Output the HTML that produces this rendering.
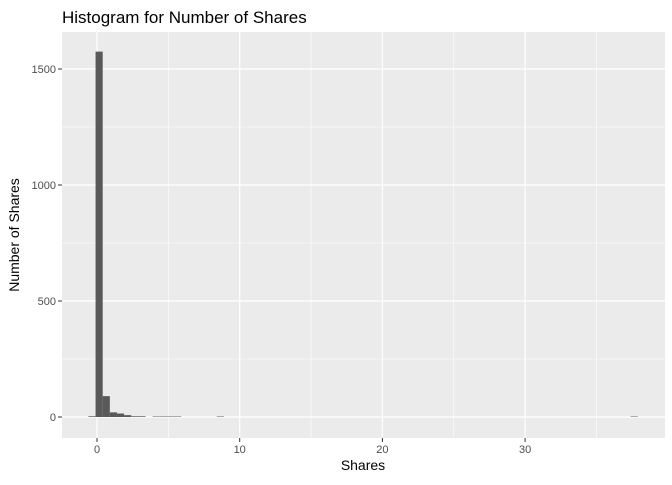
<!DOCTYPE html>
<html><head><style>
body{margin:0;background:#fff;font-family:"Liberation Sans",sans-serif}
</style></head><body>
<svg id="c" width="672" height="480" xmlns="http://www.w3.org/2000/svg">
<rect width="672" height="480" fill="#fff"/>
<text x="62" y="23" font-size="17" fill="#000">Histogram for Number of Shares</text>
<rect x="62" y="32" width="603" height="406" fill="#ebebeb"/>
<g id="grid"></g><g id="bars"></g><g id="axes"></g>
<text x="363" y="470" font-size="14" text-anchor="middle">Shares</text>
<text transform="translate(19,235) rotate(-90)" font-size="14" text-anchor="middle">Number of Shares</text>
</svg>
<script>
const binCenters=[-0.35,0.15,0.65,1.15,1.65,2.15,2.65,3.15,4.15,4.65,5.15,5.65,8.65,37.65];
const counts=[3,1575,90,20,15,8,3,3,2,2,2,2,2,2];
const binWidth=0.5;
const xTicks=[0,10,20,30];
const yTicks=[0,500,1000,1500];
const xMinor=[5,15,25,35];
const yMinor=[250,750,1250];
const X=v=>97+v*14.27;
const Y=v=>417-v*0.232;
const NS="http://www.w3.org/2000/svg";
function mk(p,t,a){const e=document.createElementNS(NS,t);for(const k in a)e.setAttribute(k,a[k]);document.getElementById(p).appendChild(e);return e;}
xMinor.forEach(v=>{const e=mk('grid','line',{x1:X(v),x2:X(v),y1:32,y2:438,stroke:'#fff','stroke-width':0.6});

});
yMinor.forEach(v=>{const e=mk('grid','line',{x1:62,x2:665,y1:Y(v),y2:Y(v),stroke:'#fff','stroke-width':0.6});

});
xTicks.forEach(v=>{const e=mk('grid','line',{x1:X(v),x2:X(v),y1:32,y2:438,stroke:'#fff','stroke-width':1.2});


const k=mk('axes','line',{x1:X(v),x2:X(v),y1:438,y2:442,stroke:'#333'});


const t=mk('axes','text',{x:X(v),y:453,'font-size':11,fill:'#4d4d4d','text-anchor':'middle'});t.textContent=v;

});
yTicks.forEach(v=>{const e=mk('grid','line',{x1:62,x2:665,y1:Y(v),y2:Y(v),stroke:'#fff','stroke-width':1.2});


const k=mk('axes','line',{x1:58,x2:62,y1:Y(v),y2:Y(v),stroke:'#333'});


const t=mk('axes','text',{x:56,y:Y(v)+4,'font-size':11,fill:'#4d4d4d','text-anchor':'end'});t.textContent=v;

});
binCenters.forEach((c,i)=>{const x0=X(c-binWidth/2),x1=X(c+binWidth/2);
const b=mk('bars','rect',{x:x0,y:Y(counts[i]),width:x1-x0,height:Y(0)-Y(counts[i]),fill:'#595959'});

});
</script>
</body></html>
